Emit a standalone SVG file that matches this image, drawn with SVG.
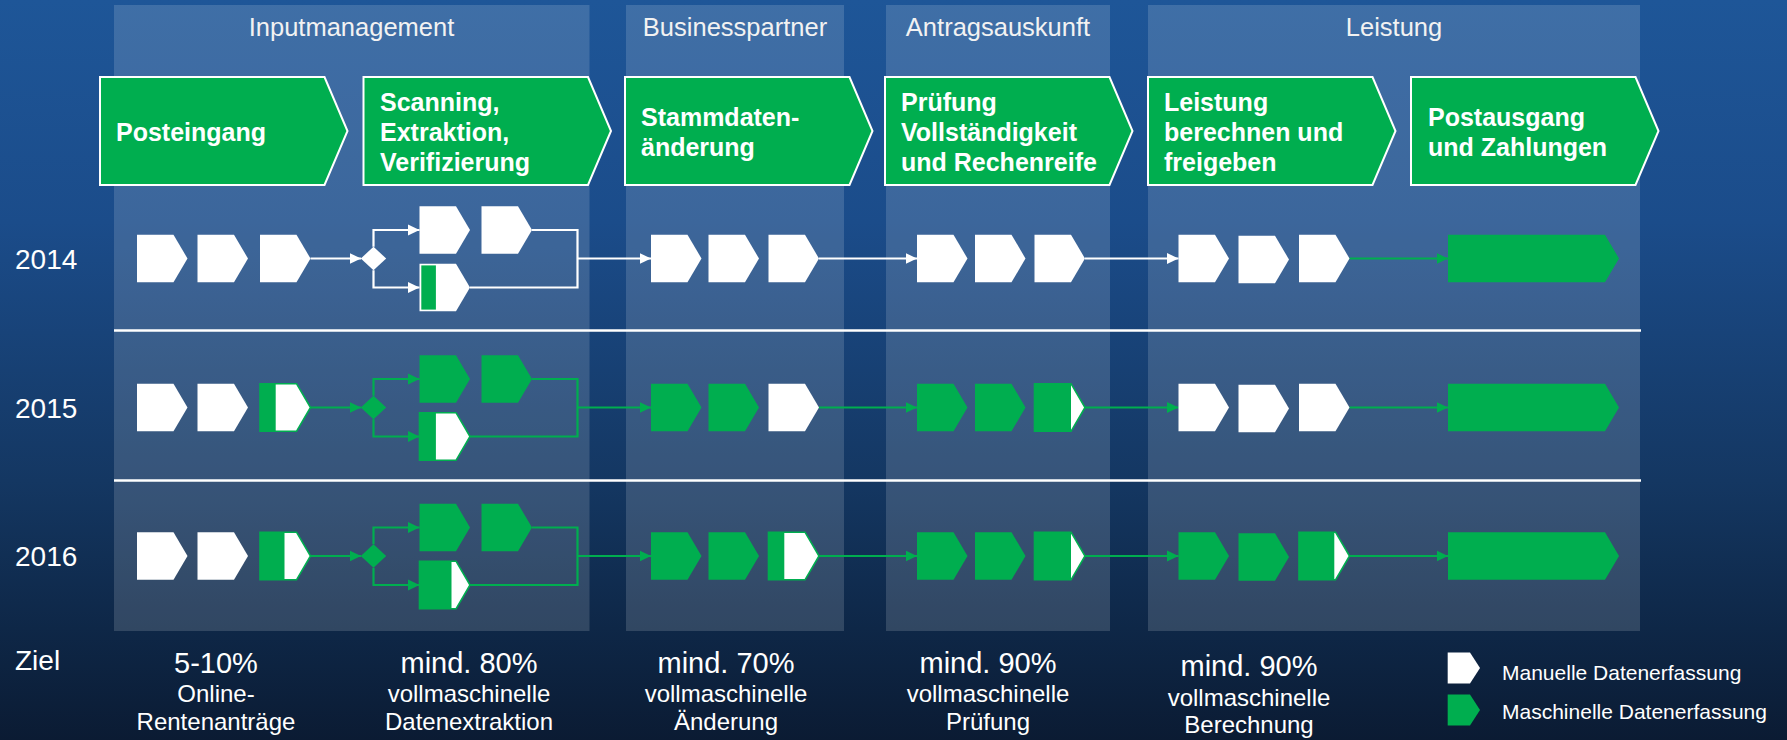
<svg xmlns="http://www.w3.org/2000/svg" xmlns:xlink="http://www.w3.org/1999/xlink" width="1787" height="740" viewBox="0 0 1787 740">
  <defs>
    <linearGradient id="bg" x1="0" y1="0" x2="0" y2="1">
      <stop offset="0" stop-color="#1e5698"/>
      <stop offset="0.3" stop-color="#1b4c8a"/>
      <stop offset="0.65" stop-color="#143762"/>
      <stop offset="0.85" stop-color="#0e2747"/>
      <stop offset="1" stop-color="#0b1b33"/>
    </linearGradient>
    <!-- small process step, origin at left edge / vertical centre -->
    <path id="chev" d="M0,-23.8 H36.5 L50.5,0 L36.5,23.8 H0 Z"/>
    <!-- large phase header -->
    <path id="head" d="M0,0 H224.5 L247.5,54 L224.5,108 H0 Z"/>
    <!-- legend step -->
    <path id="legchev" d="M0,-15.5 H22.3 L32.3,0 L22.3,15.5 H0 Z"/>
    <marker id="aw" markerUnits="userSpaceOnUse" markerWidth="12" markerHeight="12" refX="11.5" refY="6" orient="auto">
      <path d="M0,0.5 L11.5,6 L0,11.5 Z" fill="#ffffff"/>
    </marker>
    <marker id="ag" markerUnits="userSpaceOnUse" markerWidth="12" markerHeight="12" refX="11.5" refY="6" orient="auto">
      <path d="M0,0.5 L11.5,6 L0,11.5 Z" fill="#00ae4f"/>
    </marker>
  </defs>
  <style>
    text { font-family: "Liberation Sans", Arial, sans-serif; fill: #ffffff; }
    .col { fill: #ffffff; fill-opacity: 0.15; }
    .ttl { font-size: 25.5px; text-anchor: middle; fill: #f2f2f2; }
    .hd { fill: #00ae4f; stroke: #ffffff; stroke-width: 2; }
    .hdt { font-size: 25px; font-weight: bold; }
    .yr { font-size: 28px; }
    .w { fill: #ffffff; }
    .g { fill: #00ae4f; }
    .gw { fill: #ffffff; stroke: #00ae4f; stroke-width: 1.6; }
    .sep { stroke: #ffffff; stroke-width: 2.5; }
    .lw { fill: none; stroke: #ffffff; stroke-width: 2.2; }
    .lg { fill: none; stroke: #00ae4f; stroke-width: 2.2; }
    .lw.arr { marker-end: url(#aw); }
    .lg.arr { marker-end: url(#ag); }
    .big { font-size: 29px; text-anchor: middle; }
    .sml { font-size: 24px; text-anchor: middle; }
    .leg { font-size: 21px; }
  </style>

  <!-- background -->
  <rect x="0" y="0" width="1787" height="740" fill="url(#bg)"/>

  <!-- phase columns -->
  <g id="columns">
    <rect class="col" x="114" y="5" width="475.5" height="626"/>
    <rect class="col" x="626" y="5" width="218" height="626"/>
    <rect class="col" x="886" y="5" width="224" height="626"/>
    <rect class="col" x="1148" y="5" width="492" height="626"/>
  </g>

  <g id="phase-titles">
    <text class="ttl" x="351.5" y="36">Inputmanagement</text>
    <text class="ttl" x="735" y="36">Businesspartner</text>
    <text class="ttl" x="998" y="36">Antragsauskunft</text>
    <text class="ttl" x="1394" y="36">Leistung</text>
  </g>

  <!-- row separators -->
  <g id="separators">
    <line class="sep" x1="114" y1="330.5" x2="1641" y2="330.5"/>
    <line class="sep" x1="114" y1="480.5" x2="1641" y2="480.5"/>
  </g>

  <!-- process headers -->
  <g id="h-posteingang">
    <use href="#head" class="hd" x="100" y="77"/>
    <text class="hdt" x="116" y="141">Posteingang</text>
  </g>
  <g id="h-scanning">
    <use href="#head" class="hd" x="363.5" y="77"/>
    <text class="hdt" x="380" y="111">Scanning,</text>
    <text class="hdt" x="380" y="141">Extraktion,</text>
    <text class="hdt" x="380" y="171">Verifizierung</text>
  </g>
  <g id="h-stammdaten">
    <use href="#head" class="hd" x="625" y="77"/>
    <text class="hdt" x="641" y="126">Stammdaten-</text>
    <text class="hdt" x="641" y="156">änderung</text>
  </g>
  <g id="h-pruefung">
    <use href="#head" class="hd" x="885" y="77"/>
    <text class="hdt" x="901" y="111">Prüfung</text>
    <text class="hdt" x="901" y="141">Vollständigkeit</text>
    <text class="hdt" x="901" y="171">und Rechenreife</text>
  </g>
  <g id="h-leistung">
    <use href="#head" class="hd" x="1148" y="77"/>
    <text class="hdt" x="1164" y="111">Leistung</text>
    <text class="hdt" x="1164" y="141">berechnen und</text>
    <text class="hdt" x="1164" y="171">freigeben</text>
  </g>
  <g id="h-postausgang">
    <use href="#head" class="hd" x="1411" y="77"/>
    <text class="hdt" x="1428" y="126">Postausgang</text>
    <text class="hdt" x="1428" y="156">und Zahlungen</text>
  </g>

  <!-- year labels -->
  <g id="years">
    <text class="yr" x="15" y="268.5">2014</text>
    <text class="yr" x="15" y="417.5">2015</text>
    <text class="yr" x="15" y="566">2016</text>
  </g>

  <!-- connectors -->
  <g id="connectors">
    <!-- 2014 -->
    <path class="lw arr" d="M310.5,258.5 H361"/>
    <path class="lw arr" d="M373.5,246.8 V230 H419.5"/>
    <path class="lw arr" d="M373.5,270.2 V287.5 H419.5"/>
    <path class="lw" d="M532,230 H577.5 V287.5 H470"/>
    <path class="lw arr" d="M577.5,258.5 H651"/>
    <path class="lw arr" d="M819,258.5 H917"/>
    <path class="lw arr" d="M1085,258.5 H1178.5"/>
    <path class="lg arr" d="M1349.5,258.5 H1448"/>
    <!-- 2015 -->
    <path class="lg arr" d="M310.5,407.5 H361"/>
    <path class="lg arr" d="M373.5,395.8 V379 H419.5"/>
    <path class="lg arr" d="M373.5,419.2 V436.5 H419.5"/>
    <path class="lg" d="M532,379 H577.5 V436.5 H470"/>
    <path class="lg arr" d="M577.5,407.5 H651"/>
    <path class="lg arr" d="M819,407.5 H917"/>
    <path class="lg arr" d="M1085,407.5 H1178.5"/>
    <path class="lg arr" d="M1349.5,407.5 H1448"/>
    <!-- 2016 -->
    <path class="lg arr" d="M310.5,556 H361"/>
    <path class="lg arr" d="M373.5,544.3 V527.5 H419.5"/>
    <path class="lg arr" d="M373.5,567.7 V585 H419.5"/>
    <path class="lg" d="M532,527.5 H577.5 V585 H470"/>
    <path class="lg arr" d="M577.5,556 H651"/>
    <path class="lg arr" d="M819,556 H917"/>
    <path class="lg arr" d="M1085,556 H1178.5"/>
    <path class="lg arr" d="M1349.5,556 H1448"/>
  </g>

  <!-- 2014 steps -->
  <g id="r14-in1"><use href="#chev" class="w" x="137" y="258.5"/></g>
  <g id="r14-in2"><use href="#chev" class="w" x="197.5" y="258.5"/></g>
  <g id="r14-in3"><use href="#chev" class="w" x="260" y="258.5"/></g>
  <g id="r14-gate"><polygon class="w" points="360.8,258.5 373.5,246.8 386.2,258.5 373.5,270.2"/></g>
  <g id="r14-scan1"><use href="#chev" class="w" x="419.5" y="230"/></g>
  <g id="r14-scan2"><use href="#chev" class="w" x="481.5" y="230"/></g>
  <g id="r14-scan3"><use href="#chev" class="w" x="419.5" y="287.5"/><rect class="g" x="421.3" y="265.4" width="14.6" height="44.2"/></g>
  <g id="r14-bp1"><use href="#chev" class="w" x="651" y="258.5"/></g>
  <g id="r14-bp2"><use href="#chev" class="w" x="708.5" y="258.5"/></g>
  <g id="r14-bp3"><use href="#chev" class="w" x="768.5" y="258.5"/></g>
  <g id="r14-an1"><use href="#chev" class="w" x="917" y="258.5"/></g>
  <g id="r14-an2"><use href="#chev" class="w" x="975" y="258.5"/></g>
  <g id="r14-an3"><use href="#chev" class="w" x="1034.5" y="258.5"/></g>
  <g id="r14-le1"><use href="#chev" class="w" x="1178.5" y="258.5"/></g>
  <g id="r14-le2"><use href="#chev" class="w" x="1238.5" y="259.5"/></g>
  <g id="r14-le3"><use href="#chev" class="w" x="1299" y="258.5"/></g>
  <g id="r14-out"><path class="g" d="M1448,234.7 H1605 L1619,258.5 L1605,282.3 H1448 Z"/></g>

  <!-- 2015 steps -->
  <g id="r15-in1"><use href="#chev" class="w" x="137" y="407.5"/></g>
  <g id="r15-in2"><use href="#chev" class="w" x="197.5" y="407.5"/></g>
  <g id="r15-in3"><use href="#chev" class="gw" x="260" y="407.5"/><rect class="g" x="260" y="383.7" width="15.7" height="47.6"/></g>
  <g id="r15-gate"><polygon class="g" points="360.8,407.5 373.5,395.8 386.2,407.5 373.5,419.2"/></g>
  <g id="r15-scan1"><use href="#chev" class="g" x="419.5" y="379"/></g>
  <g id="r15-scan2"><use href="#chev" class="g" x="481.5" y="379"/></g>
  <g id="r15-scan3"><use href="#chev" class="gw" x="419.5" y="436.5"/><rect class="g" x="419.5" y="412.7" width="16.4" height="47.6"/></g>
  <g id="r15-bp1"><use href="#chev" class="g" x="651" y="407.5"/></g>
  <g id="r15-bp2"><use href="#chev" class="g" x="708.5" y="407.5"/></g>
  <g id="r15-bp3"><use href="#chev" class="w" x="768.5" y="407.5"/></g>
  <g id="r15-an1"><use href="#chev" class="g" x="917" y="407.5"/></g>
  <g id="r15-an2"><use href="#chev" class="g" x="975" y="407.5"/></g>
  <g id="r15-an3"><use href="#chev" class="gw" x="1034.5" y="407.5"/><rect class="g" x="1034.5" y="383.7" width="36.5" height="47.6"/></g>
  <g id="r15-le1"><use href="#chev" class="w" x="1178.5" y="407.5"/></g>
  <g id="r15-le2"><use href="#chev" class="w" x="1238.5" y="408.5"/></g>
  <g id="r15-le3"><use href="#chev" class="w" x="1299" y="407.5"/></g>
  <g id="r15-out"><path class="g" d="M1448,383.7 H1605 L1619,407.5 L1605,431.3 H1448 Z"/></g>

  <!-- 2016 steps -->
  <g id="r16-in1"><use href="#chev" class="w" x="137" y="556"/></g>
  <g id="r16-in2"><use href="#chev" class="w" x="197.5" y="556"/></g>
  <g id="r16-in3"><use href="#chev" class="gw" x="260" y="556"/><rect class="g" x="260" y="532.2" width="24.5" height="47.6"/></g>
  <g id="r16-gate"><polygon class="g" points="360.8,556 373.5,544.3 386.2,556 373.5,567.7"/></g>
  <g id="r16-scan1"><use href="#chev" class="g" x="419.5" y="527.5"/></g>
  <g id="r16-scan2"><use href="#chev" class="g" x="481.5" y="527.5"/></g>
  <g id="r16-scan3"><use href="#chev" class="gw" x="419.5" y="585"/><rect class="g" x="419.5" y="561.2" width="32" height="47.6"/></g>
  <g id="r16-bp1"><use href="#chev" class="g" x="651" y="556"/></g>
  <g id="r16-bp2"><use href="#chev" class="g" x="708.5" y="556"/></g>
  <g id="r16-bp3"><use href="#chev" class="gw" x="768.5" y="556"/><rect class="g" x="768.5" y="532.2" width="15.8" height="47.6"/></g>
  <g id="r16-an1"><use href="#chev" class="g" x="917" y="556"/></g>
  <g id="r16-an2"><use href="#chev" class="g" x="975" y="556"/></g>
  <g id="r16-an3"><use href="#chev" class="gw" x="1034.5" y="556"/><rect class="g" x="1034.5" y="532.2" width="36.5" height="47.6"/></g>
  <g id="r16-le1"><use href="#chev" class="g" x="1178.5" y="556"/></g>
  <g id="r16-le2"><use href="#chev" class="g" x="1238.5" y="557"/></g>
  <g id="r16-le3"><use href="#chev" class="gw" x="1299" y="556"/><rect class="g" x="1299" y="532.2" width="35.3" height="47.6"/></g>
  <g id="r16-out"><path class="g" d="M1448,532.2 H1605 L1619,556 L1605,579.8 H1448 Z"/></g>

  <!-- targets -->
  <g id="targets">
    <text class="yr" x="15" y="670">Ziel</text>
    <text class="big" x="216" y="673">5-10%</text>
    <text class="sml" x="216" y="702">Online-</text>
    <text class="sml" x="216" y="730">Rentenanträge</text>
    <text class="big" x="469" y="673">mind. 80%</text>
    <text class="sml" x="469" y="702">vollmaschinelle</text>
    <text class="sml" x="469" y="730">Datenextraktion</text>
    <text class="big" x="726" y="673">mind. 70%</text>
    <text class="sml" x="726" y="702">vollmaschinelle</text>
    <text class="sml" x="726" y="730">Änderung</text>
    <text class="big" x="988" y="673">mind. 90%</text>
    <text class="sml" x="988" y="702">vollmaschinelle</text>
    <text class="sml" x="988" y="730">Prüfung</text>
    <text class="big" x="1249" y="676">mind. 90%</text>
    <text class="sml" x="1249" y="706">vollmaschinelle</text>
    <text class="sml" x="1249" y="733">Berechnung</text>
  </g>

  <!-- legend -->
  <g id="legend">
    <use href="#legchev" class="w" x="1447.7" y="668"/>
    <text class="leg" x="1502" y="680">Manuelle Datenerfassung</text>
    <use href="#legchev" class="g" x="1447.7" y="710"/>
    <text class="leg" x="1502" y="718.5">Maschinelle Datenerfassung</text>
  </g>
</svg>
